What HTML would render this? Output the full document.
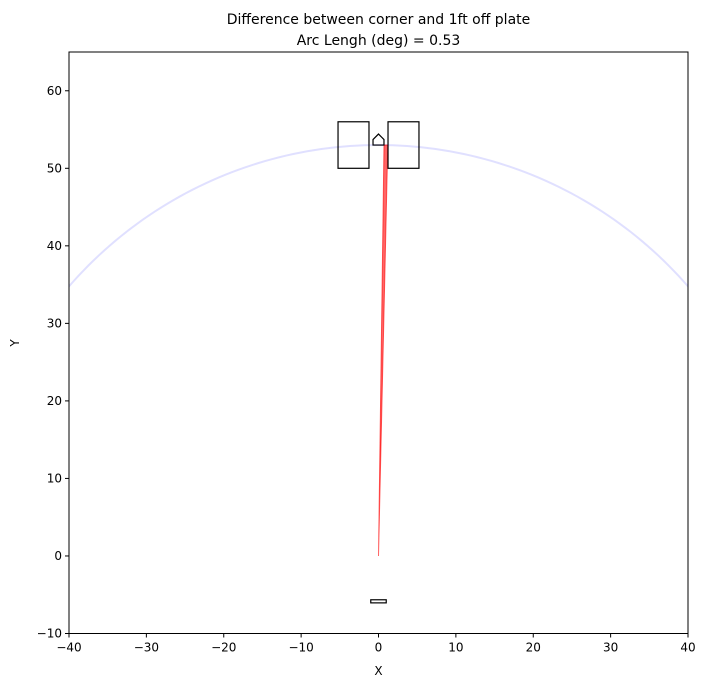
<!DOCTYPE html>
<html><head><meta charset="utf-8"><style>
body{margin:0;background:#fff;font-family:"Liberation Sans","DejaVu Sans",sans-serif;}
svg text{font-family:"DejaVu Sans","Liberation Sans",sans-serif;}
</style></head><body>
<svg id="chart" width="707" height="687" xmlns="http://www.w3.org/2000/svg">
<text x="378.5" y="24" font-size="14" text-anchor="middle">Difference between corner and 1ft off plate</text>
<text x="378.5" y="45" font-size="14" text-anchor="middle">Arc Lengh (deg) = 0.53</text>
<g id="plot"></g>
<text x="378.5" y="675" font-size="12" text-anchor="middle">X</text>
<text x="19" y="343" font-size="12" text-anchor="middle" transform="rotate(-90 19 343)">Y</text>
</svg>
<script>
const xTicks=[-40,-30,-20,-10,0,10,20,30,40];
const yTicks=[-10,0,10,20,30,40,50,60];
const arcRadius=[53];
const wedgeX=[0,0.708,1.2];
const wedgeY=[0,53,53];
const leftBox=[-5.23,50,-1.23,56];
const rightBox=[1.23,50,5.23,56];
const plateX=[-0.708,0.708,0.708,0,-0.708];
const plateY=[53,53,53.71,54.42,53.71];
const rubber=[-1,-6.05,1,-5.65];
const L=69,R=688,T=52,B=633.5;
const sx=v=>L+(v+40)/80*(R-L);
const sy=v=>B-(v+10)/75*(B-T);
const NS="http://www.w3.org/2000/svg";
const g=document.getElementById('plot');
function mk(t,a){const e=document.createElementNS(NS,t);for(const k in a)e.setAttribute(k,a[k]);g.appendChild(e);return e;}
// clip
const cp=mk('clipPath',{id:'clip'});const cr=document.createElementNS(NS,'rect');
cr.setAttribute('x',L);cr.setAttribute('y',T);cr.setAttribute('width',R-L);cr.setAttribute('height',B-T);cp.appendChild(cr);
// arc
let pts=[];for(let a=0;a<=180;a+=1){const r=arcRadius[0];pts.push(sx(r*Math.cos(a*Math.PI/180))+','+sy(r*Math.sin(a*Math.PI/180)));}
let e=mk('polyline',{points:pts.join(' '),fill:'none',stroke:'#0000ff','stroke-opacity':'0.12','stroke-width':'2','clip-path':'url(#clip)'});


// wedge
e=mk('polygon',{points:wedgeX.map((x,i)=>sx(x)+','+sy(wedgeY[i])).join(' '),fill:'#ff0000','fill-opacity':'0.6',stroke:'#ff0000','stroke-opacity':'0.6','stroke-width':'1'});


function box(b,name){const el=mk('rect',{x:sx(b[0]),y:sy(b[3]),width:sx(b[2])-sx(b[0]),height:sy(b[1])-sy(b[3]),fill:'none',stroke:'#000','stroke-width':'1.2'});

}
box(leftBox,'left-batters-box');box(rightBox,'right-batters-box');box(rubber,'pitchers-rubber');
e=mk('polygon',{points:plateX.map((x,i)=>sx(x)+','+sy(plateY[i])).join(' '),fill:'none',stroke:'#000','stroke-width':'1.2'});


// frame
e=mk('rect',{x:L,y:T,width:R-L,height:B-T,fill:'none',stroke:'#000','stroke-width':'1'});


xTicks.forEach(v=>{const x=sx(v);mk('line',{x1:x,x2:x,y1:B,y2:B+4,stroke:'#000'});
const t=mk('text',{x:x,y:B+18,'font-size':'12','text-anchor':'middle'});t.textContent=(v<0?'\u2212'+(-v):v);

});
yTicks.forEach(v=>{const y=sy(v);mk('line',{x1:L-4,x2:L,y1:y,y2:y,stroke:'#000'});
const t=mk('text',{x:L-7,y:y+4,'font-size':'12','text-anchor':'end'});t.textContent=(v<0?'\u2212'+(-v):v);

});
</script>
</body></html>
